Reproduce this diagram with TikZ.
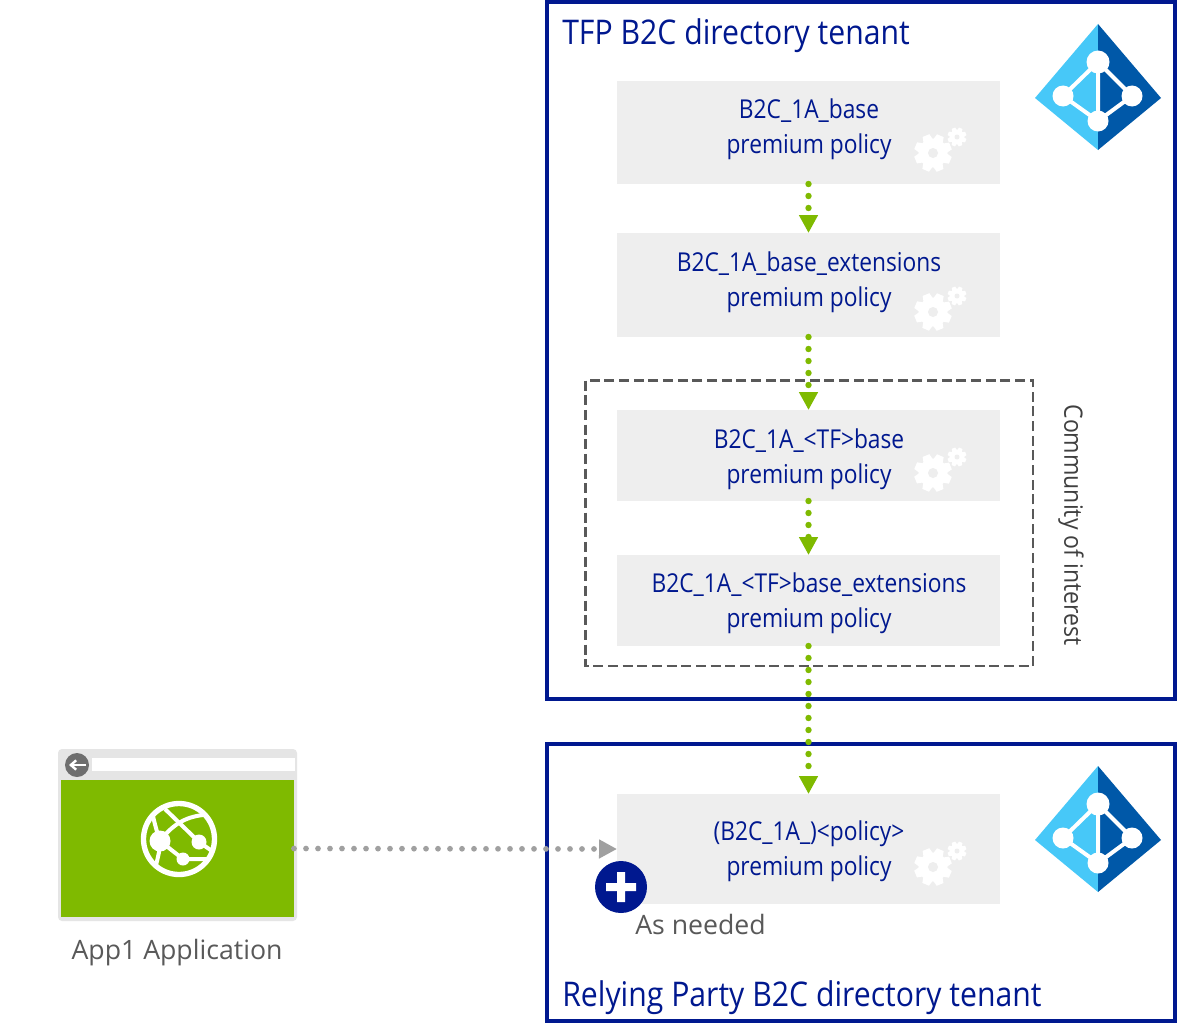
\documentclass[tikz,border=0pt]{standalone}
\usepackage{fontspec}
\setmainfont{Open Sans}
\newfontfamily\polf[FakeStretch=0.875]{Open Sans}
\newfontfamily\titlef[FakeStretch=0.888]{Open Sans}
\newfontfamily\coif[FakeStretch=0.91]{Open Sans}
\usetikzlibrary{arrows.meta}
\def\px{0.75pt}
\definecolor{navy}{HTML}{00188F}
\definecolor{boxgray}{HTML}{EEEEEE}
\definecolor{leaf}{HTML}{7FBA00}
\definecolor{sky}{HTML}{47C8F8}
\definecolor{deep}{HTML}{0058A8}
\definecolor{txtgray}{HTML}{595959}
\definecolor{dotgray}{HTML}{A0A0A0}
\tikzset{
  tenant/.style={draw=navy,line width=3pt,fill=none,inner sep=0pt,outer sep=0pt,anchor=north west},
  policybox/.style={fill=boxgray,inner sep=0pt,outer sep=0pt,minimum width=383*\px,anchor=north west},
  poltext/.style={text=navy,align=center,inner sep=0pt,font=\polf\fontsize{19.5pt}{25.9pt}\selectfont},
  titletext/.style={text=navy,anchor=base west,inner sep=0pt,font=\titlef\fontsize{25.5pt}{30pt}\selectfont},
  graytext/.style={text=txtgray,inner sep=0pt,font=\fontsize{20pt}{24pt}\selectfont},
  greenflow/.style={draw=leaf,line width=4.8pt,line cap=round,dash pattern=on 0pt off 9pt,
    -{Triangle[width=18*\px,length=18*\px,color=leaf]}},
  grayflow/.style={draw=dotgray,line width=4.3pt,line cap=round,dash pattern=on 0pt off 9pt,
    -{Triangle[width=18*\px,length=18*\px,color=dotgray]}},
  gearpair/.pic={
    \foreach \a in {0,45,...,315}{
      \fill[white,rotate=\a+22] (-5.5,-11) -- (-3.6,-18.8) -- (3.6,-18.8) -- (5.5,-11) -- cycle;
    }
    \fill[white] (0,0) circle (14.5);
    \fill[boxgray] (0,0) circle (5);
    \begin{scope}[shift={(24,-16)}]
      \foreach \a in {0,45,...,315}{
        \fill[white,rotate=\a+22] (-2.8,-5.5) -- (-1.8,-9.5) -- (1.8,-9.5) -- (2.8,-5.5) -- cycle;
      }
      \fill[white] (0,0) circle (7);
      \fill[boxgray] (0,0) circle (2.5);
    \end{scope}
  },
  diamondicon/.pic={
    \fill[sky] (0,-74) -- (-63,0) -- (0,52) -- cycle;
    \fill[deep] (0,-74) -- (63,0) -- (0,52) -- cycle;
    \draw[white,line width=3pt] (0,-36) -- (-35,-2) -- (0,23) -- (34,-2) -- cycle (0,-36) -- (0,23);
    \fill[white] (0,-36) circle (11.5) (-35,-2) circle (10.5) (34,-2) circle (10.5) (0,23) circle (10.5);
  }
}
\begin{document}
\begin{tikzpicture}[x=0.75pt,y=-0.75pt]
\useasboundingbox (0,0) rectangle (1177,1024);
\fill[white] (0,0) rectangle (1177,1024);
% tenants
\node[tenant,minimum width=628*\px,minimum height=697*\px] (tfp) at (547,2) {};
\node[tenant,minimum width=628*\px,minimum height=277*\px] (rp) at (547,744) {};
\node[titletext] (tfptitle) at (562,45) {TFP B2C directory tenant};
\node[titletext] (rptitle) at (562,1006) {Relying Party B2C directory tenant};
% community box
\draw[draw=txtgray,line width=1.9pt,dash pattern=on 7.5pt off 3.5pt] (585.5,380.5) rectangle (1033,666);
\node[text=black!75,rotate=-90,inner sep=0pt,font=\coif\fontsize{19pt}{24pt}\selectfont] (coi) at (1071,525) {Community of interest};
% policy boxes
\node[policybox,minimum height=103*\px] (b1) at (617,81) {};
\node[policybox,minimum height=104*\px] (b2) at (617,233) {};
\node[policybox,minimum height=91*\px] (b3) at (617,410) {};
\node[policybox,minimum height=91*\px] (b4) at (617,555) {};
\node[policybox,minimum height=110*\px] (b5) at (617,794) {};
\pic at (933,153) {gearpair};
\pic at (933,312) {gearpair};
\pic at (933,473) {gearpair};
\pic at (933,867) {gearpair};
\node[poltext] (t1) at (809,129) {B2C\_1A\_base\\premium policy};
\node[poltext] (t2) at (809,282) {B2C\_1A\_base\_extensions\\premium policy};
\node[poltext] (t3) at (809,459) {B2C\_1A\_<TF>base\\premium policy};
\node[poltext] (t4) at (809,603.5) {B2C\_1A\_<TF>base\_extensions\\premium policy};
\node[poltext] (t5) at (809,851) {(B2C\_1A\_)<policy>\\premium policy};
% icons
\pic at (1098,98) {diamondicon};
\pic at (1098,840) {diamondicon};
% browser
\fill[fill=black!10,rounded corners=3pt] (58,749) rectangle (297,921);
\fill[white] (92,758) rectangle (295,771);
\node[fill=leaf,inner sep=0pt,outer sep=0pt,minimum width=233*\px,minimum height=137*\px,anchor=north west] (app) at (61,780) {};
\fill[black!57] (77,765) circle (12);
\draw[white,line width=1.8pt,-{Straight Barb[length=4pt,width=7pt]}] (86,765) -- (69,765);
\begin{scope}[white,line width=3pt]
  \draw[line width=4pt] (179,839) circle (35.5);
  \draw[line width=3pt] (160,841) .. controls (172,825) and (185,817) .. (203,815);
  \draw[line width=3pt] (165,809) -- (199,842) -- (212,851);
  \draw[line width=3pt] (160,841) -- (183,859) -- (208,859);
  \draw[line width=3pt] (153,816) .. controls (155,825) and (157,832) .. (160,841) .. controls (160,850) and (158,857) .. (156,865);
  \fill (160,841) circle (10.5) (199,842) circle (7.5) (183,859) circle (6.5);
\end{scope}
\node[graytext] (applabel) at (177,953) {App1 Application};
% flows
\draw[greenflow] (b1.south) -- (b2.north);
\draw[greenflow] (b2.south) -- (b3.north);
\draw[greenflow] (b3.south) -- (b4.north);
\draw[greenflow] (b4.south) -- (b5.north);
\draw[grayflow] (app.east) -- (b5.west);
% badge
\fill[navy] (621,887) circle (26);
\fill[white] (606,883) rectangle (636,891) (617,872) rectangle (625,902);
\node[graytext,anchor=west] (needed) at (635,924) {As needed};
\end{tikzpicture}
\end{document}
